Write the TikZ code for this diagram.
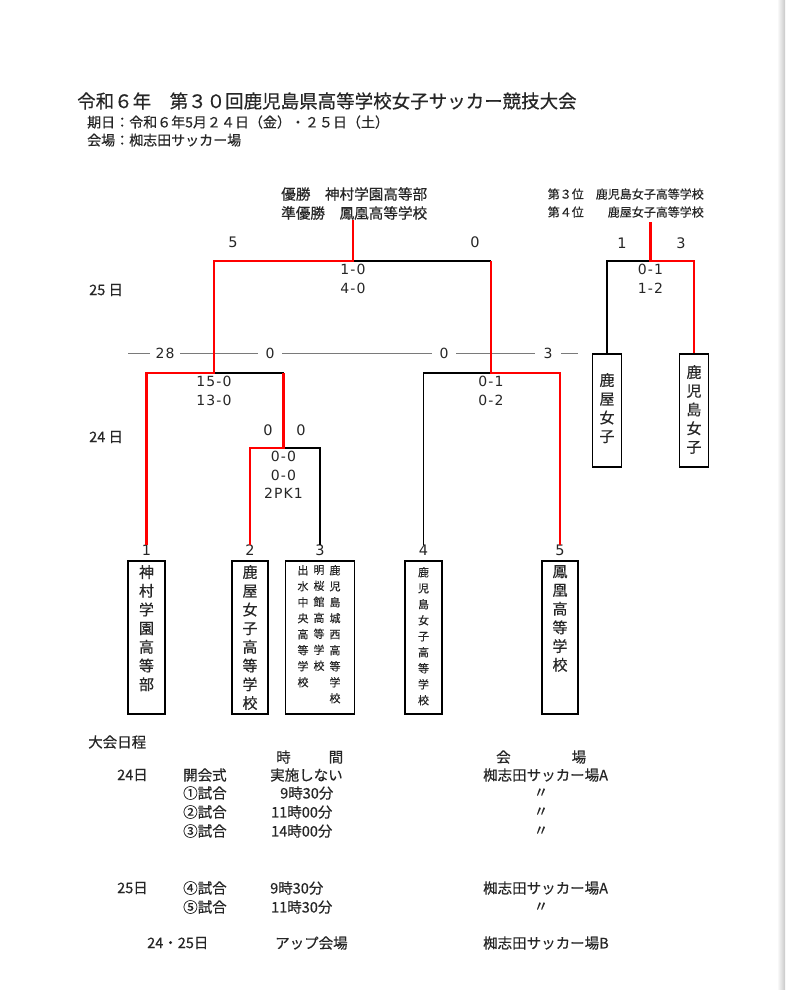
\documentclass[tikz,border=0pt]{standalone}
\usepackage{fontspec}
\setmainfont{Noto Sans CJK JP}[FakeBold=0.4]
\newfontfamily\numfont{DejaVu Sans}[LetterSpace=8]
\usepackage{tikz}
\usetikzlibrary{positioning}
\definecolor{winred}{HTML}{FF0000}
\definecolor{rulegray}{HTML}{7A7A7A}
\definecolor{edgegray}{HTML}{C8C8C8}
\definecolor{inkgray}{HTML}{262626}
\tikzset{
  winline/.style={draw=winred, line width=2.8pt},
  loseline/.style={draw=black, line width=1.8pt},
  teambox/.style={
    rectangle, draw=black, line width=1.8pt, anchor=north,
    minimum width=37pt, minimum height=153pt, inner sep=0pt
  },
  sidebox/.style={teambox, minimum width=29pt, minimum height=113pt},
  tate/.style={
    align=center, anchor=north, inner sep=0pt, text=inkgray,
    font=\fontsize{15}{18.7}\selectfont
  },
  tatesmall/.style={tate, font=\fontsize{11}{16}\selectfont},
  score/.style={align=center, inner sep=0pt, text=inkgray, font=\numfont\fontsize{14}{18.5}\selectfont},
  teamno/.style={inner sep=0pt, text=inkgray, font=\numfont\fontsize{14.5}{18}\selectfont},
  sched/.style={anchor=west, inner sep=0pt, text=inkgray, font=\fontsize{14.5}{18}\selectfont},
  dayrule/.style={draw=rulegray, line width=1pt}
}

\begin{document}
\begin{tikzpicture}[x=1pt, y=-1pt]
\useasboundingbox (0,0) rectangle (785,990);
\fill[white] (0,0) rectangle (785,990);
\shade[left color=white, right color=edgegray] (777,0) rectangle (785,990);

% heading
\node[anchor=west, inner sep=0pt, text=inkgray, font=\fontsize{18.5}{22}\selectfont] (title) at (77,101)
  {令和６年　第３０回鹿児島県高等学校女子サッカー競技大会};
\node[anchor=west, align=left, inner sep=0pt, text=inkgray, font=\fontsize{14}{18}\selectfont] (info) at (87,131)
  {期日：令和６年5月２４日（金）・２５日（土）\\会場：椥志田サッカー場};

% results
\node[anchor=west, align=left, inner sep=0pt, text=inkgray, font=\fontsize{14.6}{19}\selectfont] (champ) at (281,203.5)
  {優勝　神村学園高等部\\準優勝　鳳凰高等学校};
\node[anchor=east, inner sep=0pt, text=inkgray, font=\fontsize{12}{18}\selectfont] (third) at (704,204)
  {\begin{tabular}{@{}l@{\hspace{12pt}}r@{}}第３位 & 鹿児島女子高等学校\\第４位 & 鹿屋女子高等学校\end{tabular}};

\node[sched] (day25) at (89,290) {25 日};
\node[sched] (day24) at (89,437) {24 日};

% team boxes
\node[teambox] (t1) at (146.5,560) {};
\node[teambox, minimum width=36pt] (t2) at (250,560) {};
\node[teambox, minimum width=69pt] (t3) at (320,560) {};
\node[teambox] (t4) at (423.5,560) {};
\node[teambox, minimum width=36pt] (t5) at (560,560) {};
\node[teamno, above=4pt of t1] (n1) {1};
\node[teamno, above=4pt of t2] (n2) {2};
\node[teamno, above=4pt of t3] (n3) {3};
\node[teamno, above=4pt of t4] (n4) {4};
\node[teamno, above=4pt of t5] (n5) {5};

\node[tate, below=5pt of t1.north] (t1name) {神\\村\\学\\園\\高\\等\\部};
\node[tate, below=5pt of t2.north] (t2name) {鹿\\屋\\女\\子\\高\\等\\学\\校};
\node[tatesmall] (t3c) at (303,565) {出\\水\\中\\央\\高\\等\\学\\校};
\node[tatesmall] (t3b) at (319,565) {明\\桜\\館\\高\\等\\学\\校};
\node[tatesmall] (t3a) at (335,565) {鹿\\児\\島\\城\\西\\高\\等\\学\\校};
\node[tatesmall, below=7pt of t4.north] (t4name) {鹿\\児\\島\\女\\子\\高\\等\\学\\校};
\node[tate, below=5pt of t5.north] (t5name) {鳳\\凰\\高\\等\\学\\校};

% third place boxes
\node[sidebox] (b1) at (607,353) {};
\node[sidebox] (b2) at (694,353) {};
\node[tate, below=20pt of b1.north] (b1name) {鹿\\屋\\女\\子};
\node[tate, below=12pt of b2.north] (b2name) {鹿\\児\\島\\女\\子};

% junctions
\coordinate (r1) at (283.5,448);
\coordinate (s1) at (214,373);
\coordinate (s2) at (491,373);
\coordinate (fn) at (353,261);
\coordinate (tp) at (650.5,261);

% day rule
\draw[dayrule] (128,353) -- (578,353);
\node[score, fill=white, inner xsep=6pt, inner ysep=3pt] (rule28) at (165,353) {28};
\node[score, fill=white, inner xsep=8pt, inner ysep=3pt] (rule0a) at (270,353) {0};
\node[score, fill=white, inner xsep=8pt, inner ysep=3pt] (rule0b) at (444,353) {0};
\node[score, fill=white, inner xsep=9pt, inner ysep=3pt] (rule3) at (548,353) {3};

% losing lines
\draw[loseline] (n3.north) |- (r1);
\draw[loseline] (r1 |- s1) -- (s1);
\draw[loseline] (n4.north) |- (s2);
\draw[loseline] (fn) -- (s2 |- fn);
\draw[loseline] (b1.north) |- (tp);

% winning lines
\draw[winline] (n2.north) |- (r1) -- (r1 |- s1);
\draw[winline] (n1.north) |- (s1) |- (fn) -- (champ.south -| fn);
\draw[winline] (n5.north) |- (s2) -- (s2 |- fn);
\draw[winline] (b2.north) |- (tp) -- (third.south -| tp);

% scores
\node[teamno] (g1) at (233,242) {5};
\node[teamno] (g5) at (475,242) {0};
\node[teamno] (gb1) at (622,243) {1};
\node[teamno] (gb2) at (681,243) {3};
\node[score, below=3pt of fn] (fscore) {1-0\\4-0};
\node[score, below=3pt of tp] (tscore) {0-1\\1-2};
\node[score, below=3pt of s1] (s1score) {15-0\\13-0};
\node[score, below=3pt of s2] (s2score) {0-1\\0-2};
\node[teamno] (g2) at (268,430) {0};
\node[teamno] (g3) at (301,430) {0};
\node[score, below=3pt of r1] (r1score) {0-0\\0-0\\2PK1};

% schedule
\node[sched] (plan) at (88,742) {大会日程};
\node[sched] (hdtime) at (276,757) {時\hspace{38pt}間};
\node[sched] (hdvenue) at (496,757) {会\hspace{61pt}場};

\node[sched] (d24) at (117,775) {24日};
\node[sched] (ev0) at (183,775) {開会式};
\node[sched] (tm0) at (270,775) {実施しない};
\node[sched] (vn0) at (483,775) {椥志田サッカー場A};
\node[sched] (ev1) at (183,793) {①試合};
\node[sched] (tm1) at (280,793) {9時30分};
\node[sched, anchor=center] (vn1) at (541,793) {〃};
\node[sched] (ev2) at (183,812) {②試合};
\node[sched] (tm2) at (271,812) {11時00分};
\node[sched, anchor=center] (vn2) at (541,812) {〃};
\node[sched] (ev3) at (183,831) {③試合};
\node[sched] (tm3) at (271,831) {14時00分};
\node[sched, anchor=center] (vn3) at (541,831) {〃};

\node[sched] (d25) at (117,888) {25日};
\node[sched] (ev4) at (183,888) {④試合};
\node[sched] (tm4) at (270,888) {9時30分};
\node[sched] (vn4) at (483,888) {椥志田サッカー場A};
\node[sched] (ev5) at (183,907) {⑤試合};
\node[sched] (tm5) at (271,907) {11時30分};
\node[sched, anchor=center] (vn5) at (541,907) {〃};

\node[sched] (d2425) at (147,943) {24・25日};
\node[sched] (upev) at (275,943) {アップ会場};
\node[sched] (upvn) at (483,943) {椥志田サッカー場B};
\end{tikzpicture}
\end{document}
